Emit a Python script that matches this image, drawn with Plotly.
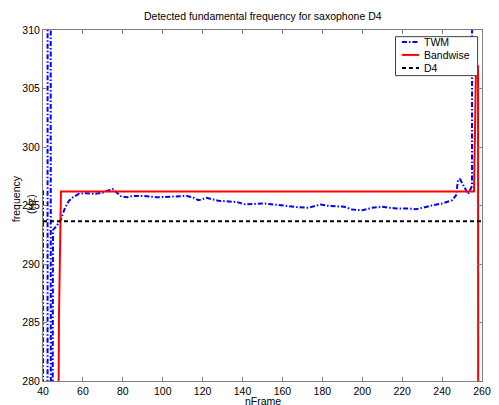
import plotly.graph_objects as go

# ---- data ----
twm_frames = [40, 41, 42, 43, 44, 45, 47, 49, 51, 53, 55, 58, 62, 66, 70, 73, 75, 77, 79, 82,
              85, 88, 92, 97, 102, 107, 112, 115, 118, 122, 125, 128, 133, 137, 141, 146,
              151, 156, 160, 163, 168, 173, 176, 179, 183, 186, 191, 195, 200, 205, 210,
              214, 217, 222, 227, 230, 233, 236, 240, 243, 245, 247, 248, 249, 250, 252,
              253, 254, 255, 256, 260]
twm_values = [296.3, 0, 0, 1000, 200, 292.9, 293.3, 293.8, 294.8, 295.4, 295.7, 296.0, 296.05,
              296.0, 296.1, 296.3, 296.4, 296.1, 295.8, 295.7, 295.8, 295.82, 295.8, 295.7,
              295.75, 295.82, 295.82, 295.7, 295.45, 295.65, 295.55, 295.4, 295.35, 295.3,
              295.1, 295.15, 295.17, 295.08, 295.0, 294.89, 294.85, 294.8, 294.95, 295.08,
              294.97, 294.92, 294.89, 294.66, 294.6, 294.8, 294.89, 294.8, 294.75, 294.75,
              294.69, 294.8, 294.94, 295.05, 295.17, 295.3, 295.45, 295.87, 297.2, 297.25,
              296.9, 296.3, 296.0, 296.3, 296.7, 1000, 1000]

band_frames = [40, 47, 48, 49, 256, 257, 258, 259, 260]
band_values = [0, 0, 285.4, 296.2, 296.2, 306.9, 306.9, 0, 0]

d4_frames = [40, 260]
d4_values = [293.66, 293.66]

x_ticks = [40, 60, 80, 100, 120, 140, 160, 180, 200, 220, 240, 260]
y_ticks = [280, 285, 290, 295, 300, 305, 310]

series_names = ["TWM", "Bandwise", "D4"]
series_colors = ["#0000ff", "#ff0000", "#000000"]
series_dashes = ["5px,2px,1.5px,2px", "solid", "4px,3px"]

FONT = "Liberation Sans, Arial, sans-serif"
TXT = dict(family=FONT, size=10.5, color="#000")

fig = go.Figure()
for name, xs, ys, col, dsh in zip(series_names,
                                  [twm_frames, band_frames, d4_frames],
                                  [twm_values, band_values, d4_values],
                                  series_colors, series_dashes):
    fig.add_trace(go.Scatter(x=xs, y=ys, mode="lines", name=name,
                             line=dict(color=col, width=2, dash=dsh)))

axis_common = dict(showline=True, linecolor="#808080", linewidth=1, mirror="ticks",
                   ticks="inside", ticklen=4, tickcolor="#808080", showgrid=False,
                   zeroline=False, tickfont=TXT)

# legend drawn as a compact MATLAB-style box (paper coordinates)
shapes = [dict(type="rect", xref="paper", yref="paper", x0=0.803, x1=0.990,
               y0=0.870, y1=0.981, fillcolor="white",
               line=dict(color="#404040", width=1), layer="above")]
annotations = []
row_y = [0.966, 0.929, 0.892]
for name, col, dsh, yy in zip(series_names, series_colors, series_dashes, row_y):
    shapes.append(dict(type="line", xref="paper", yref="paper", x0=0.8176, x1=0.8565,
                       y0=yy, y1=yy, line=dict(color=col, width=2, dash=dsh), layer="above"))
    annotations.append(dict(text=name, x=0.864, y=yy, xref="paper", yref="paper",
                            xanchor="left", yanchor="middle", showarrow=False, font=TXT))

annotations += [
    dict(text="Detected fundamental frequency for saxophone D4", x=0.5, y=1,
         xref="paper", yref="paper", yshift=14, showarrow=False, font=TXT,
         yanchor="middle"),
    dict(text="frequency", x=-0.06, y=0.52, xref="paper", yref="paper", textangle=-90,
         xanchor="center", yanchor="middle", showarrow=False, font=TXT),
    dict(text="(Hz)", x=-0.029, y=0.505, xref="paper", yref="paper", textangle=-90,
         xanchor="center", yanchor="middle", showarrow=False, font=TXT),
    dict(text="nFrame", x=0.5, y=-0.058, xref="paper", yref="paper", showarrow=False,
         yanchor="middle", font=TXT),
]

fig.update_layout(
    width=499, height=405,
    margin=dict(l=43, r=8, t=30, b=21),
    paper_bgcolor="white", plot_bgcolor="white",
    xaxis=dict(range=[40, 260], tickvals=x_ticks, **axis_common),
    yaxis=dict(range=[280, 310], tickvals=y_ticks, **axis_common),
    showlegend=False,
    shapes=shapes,
    annotations=annotations,
)

fig.write_html("out.html")
